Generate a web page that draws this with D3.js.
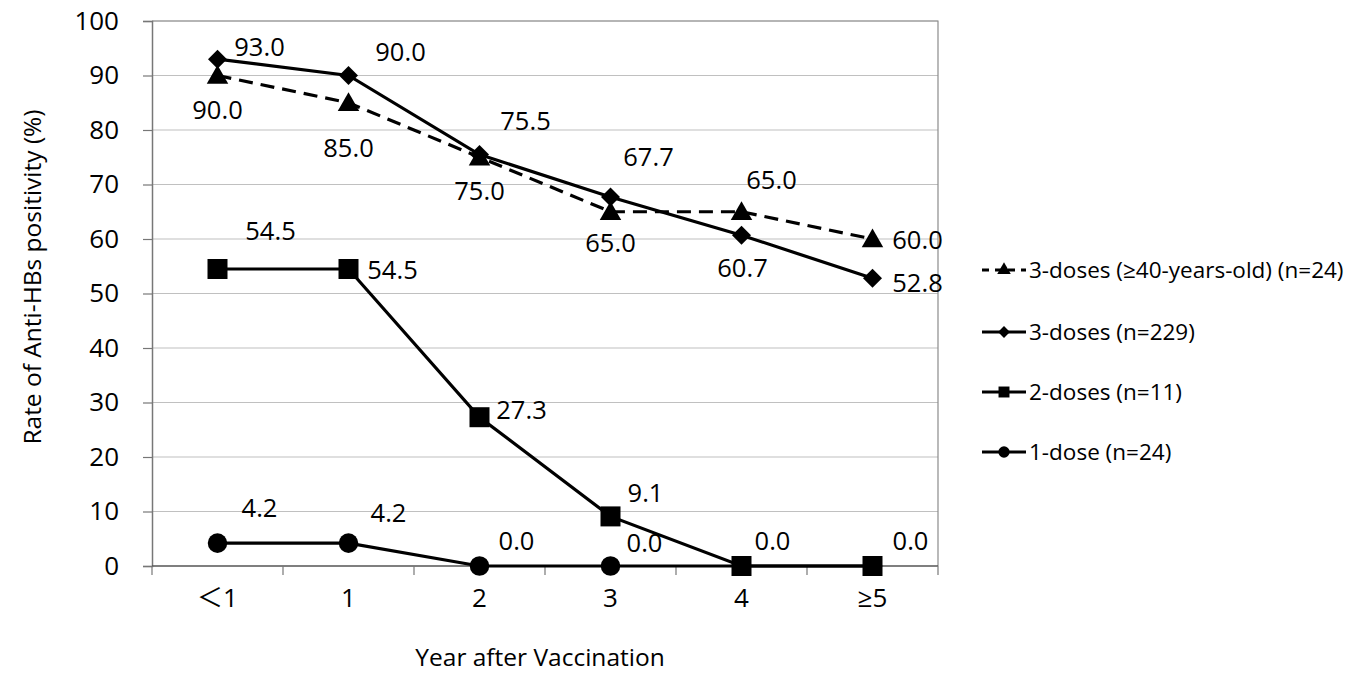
<!DOCTYPE html>
<html>
<head>
<meta charset="utf-8">
<script src="https://cdn.jsdelivr.net/npm/d3@7"></script>
<style>
  body { margin: 0; background: #fff; }
  svg { font-family: "Open Sans", "Noto Sans CJK JP", sans-serif; }
</style>
</head>
<body>
<svg id="chart" width="1367" height="675"></svg>
<script>
// data
const categories = ["＜1", "1", "2", "3", "4", "≥5"];
const yTicks = [0, 10, 20, 30, 40, 50, 60, 70, 80, 90, 100];

const threeDoses40 = [90.0, 85.0, 75.0, 65.0, 65.0, 60.0];
const threeDoses = [93.0, 90.0, 75.5, 67.7, 60.7, 52.8];
const twoDoses = [54.5, 54.5, 27.3, 9.1, 0.0, 0.0];
const oneDose = [4.2, 4.2, 0.0, 0.0, 0.0, 0.0];

const seriesNames = [
  "3-doses (≥40-years-old) (n=24)",
  "3-doses (n=229)",
  "2-doses (n=11)",
  "1-dose (n=24)"
];

// label offsets (dx, dy of the label centre from its point), placed by hand like the original
const labelOffsets = [
  [[0, 35], [0, 45], [0, 34], [0, 31], [30, -32], [45, 1]],
  [[42, -12], [52, -23], [46, -33], [38, -40], [1, 33], [45, 5]],
  [[53, -38], [44, 1], [42, -7], [35, -23], [31, -25], [38, -25]],
  [[42, -35], [40, -30], [37, -25], [34, -23], null, null]
];

const margin = { left: 152, top: 21, right: 938, bottom: 566 };

const $svg = d3.select("#chart");

const x = d3.scaleBand()
  .domain(categories)
  .range([margin.left, margin.right]);

const y = d3.scaleLinear()
  .domain([0, 100])
  .range([margin.bottom, margin.top]);

// gridlines
$svg.append("g")
  .selectAll("line")
  .data(yTicks.filter((d) => d > 0))
  .join("line")
  .attr("x1", margin.left)
  .attr("x2", margin.right)
  .attr("y1", (d) => y(d))
  .attr("y2", (d) => y(d))
  .attr("stroke", "#c0c0c0")
  .attr("stroke-width", 1.2);

// plot border (top/right)
$svg.append("path")
  .attr("d", `M${margin.left},${margin.top}H${margin.right}V${margin.bottom}`)
  .attr("fill", "none")
  .attr("stroke", "#8c8c8c")
  .attr("stroke-width", 1.2);

// y axis
const yAxis = $svg.append("g")
  .attr("transform", `translate(${margin.left},0)`)
  .call(d3.axisLeft(y).tickValues(yTicks).tickSize(9).tickPadding(24).tickFormat(d3.format("d")));
yAxis.select(".domain").attr("stroke", "#777").attr("stroke-width", 1.5);
yAxis.selectAll(".tick line").attr("stroke", "#777").attr("stroke-width", 1.2);
yAxis.selectAll("text")
  .attr("font-size", 26)
  .attr("fill", "#000")
  .attr("font-family", "Open Sans");

// x axis: ticks at band boundaries
const xAxis = $svg.append("g")
  .attr("transform", `translate(0,${margin.bottom})`);
xAxis.append("line")
  .attr("x1", margin.left)
  .attr("x2", margin.right)
  .attr("stroke", "#555")
  .attr("stroke-width", 1.5);
xAxis.selectAll(".sep")
  .data(d3.range(categories.length + 1))
  .join("line")
  .attr("class", "sep")
  .attr("x1", (i) => margin.left + i * x.step())
  .attr("x2", (i) => margin.left + i * x.step())
  .attr("y1", 0)
  .attr("y2", 9)
  .attr("stroke", "#777")
  .attr("stroke-width", 1.2);
xAxis.selectAll(".lab")
  .data(categories)
  .join("text")
  .attr("class", "lab")
  .attr("x", (d) => x(d) + x.bandwidth() / 2)
  .attr("y", 41)
  .attr("text-anchor", "middle")
  .attr("font-size", 26)
  .attr("fill", "#000")
  .text((d) => d);

// axis titles
$svg.append("text")
  .attr("transform", "translate(32,277) rotate(-90)")
  .attr("text-anchor", "middle")
  .attr("dy", "0.35em")
  .attr("font-size", 24.5)
  .attr("fill", "#000")
  .text("Rate of Anti-HBs positivity (%)");

$svg.append("text")
  .attr("x", 540)
  .attr("y", 657)
  .attr("dy", "0.35em")
  .attr("text-anchor", "middle")
  .attr("font-size", 24.5)
  .attr("fill", "#000")
  .text("Year after Vaccination");

// series
const allSeries = [threeDoses40, threeDoses, twoDoses, oneDose];
const symbols = [d3.symbolTriangle, d3.symbolSquare, d3.symbolSquare, d3.symbolCircle];
const symSizes = [200, 180, 400, 300];
const symRotate = [0, 45, 0, 0];
const legendSymSizes = [80, 70, 120, 100];
const dashes = ["14,8", null, null, null];
const cx = (i) => x(categories[i]) + x.bandwidth() / 2;

const line = d3.line()
  .x((d, i) => cx(i))
  .y((d) => y(d));

// draw bottom series first so upper ones sit on top
[3, 2, 0, 1].forEach((s) => {
  const values = allSeries[s];
  const g = $svg.append("g");
  g.append("path")
    .datum(values)
    .attr("d", line)
    .attr("fill", "none")
    .attr("stroke", "#000")
    .attr("stroke-width", 3.2)
    .attr("stroke-dasharray", dashes[s]);
  g.selectAll("path.m")
    .data(values)
    .join("path")
    .attr("class", "m")
    .attr("transform", (d, i) => `translate(${cx(i)},${y(d) + (s === 0 ? 2 : 0)}) rotate(${symRotate[s]})`)
    .attr("d", d3.symbol().type(symbols[s]).size(symSizes[s]));
});

// data labels
[3, 2, 0, 1].forEach((s) => {
  const values = allSeries[s];
  $svg.append("g")
    .selectAll("text")
    .data(values.map((v, i) => ({ v, i, off: labelOffsets[s][i] })).filter((d) => d.off))
    .join("text")
    .attr("x", (d) => cx(d.i) + d.off[0])
    .attr("y", (d) => y(d.v) + d.off[1])
    .attr("dy", "0.35em")
    .attr("text-anchor", "middle")
    .attr("font-size", 25.5)
    .attr("fill", "#000")
    .text((d) => d.v.toFixed(1));
});

// legend
const legendY = [270, 332, 392, 452];
const legend = $svg.append("g");
seriesNames.forEach((name, s) => {
  const g = legend.append("g").attr("transform", `translate(982,${legendY[s]})`);
  g.append("line")
    .attr("x1", 0)
    .attr("x2", 44)
    .attr("stroke", "#000")
    .attr("stroke-width", 3)
    .attr("stroke-dasharray", dashes[s] ? "7,6" : null);
  g.append("path")
    .attr("transform", `translate(22,0) rotate(${symRotate[s]})`)
    .attr("d", d3.symbol().type(symbols[s]).size(legendSymSizes[s]));
  g.append("text")
    .attr("x", 47)
    .attr("dy", "0.35em")
    .attr("font-size", 22.5)
    .attr("fill", "#000")
    .text(name);
});
</script>
</body>
</html>
